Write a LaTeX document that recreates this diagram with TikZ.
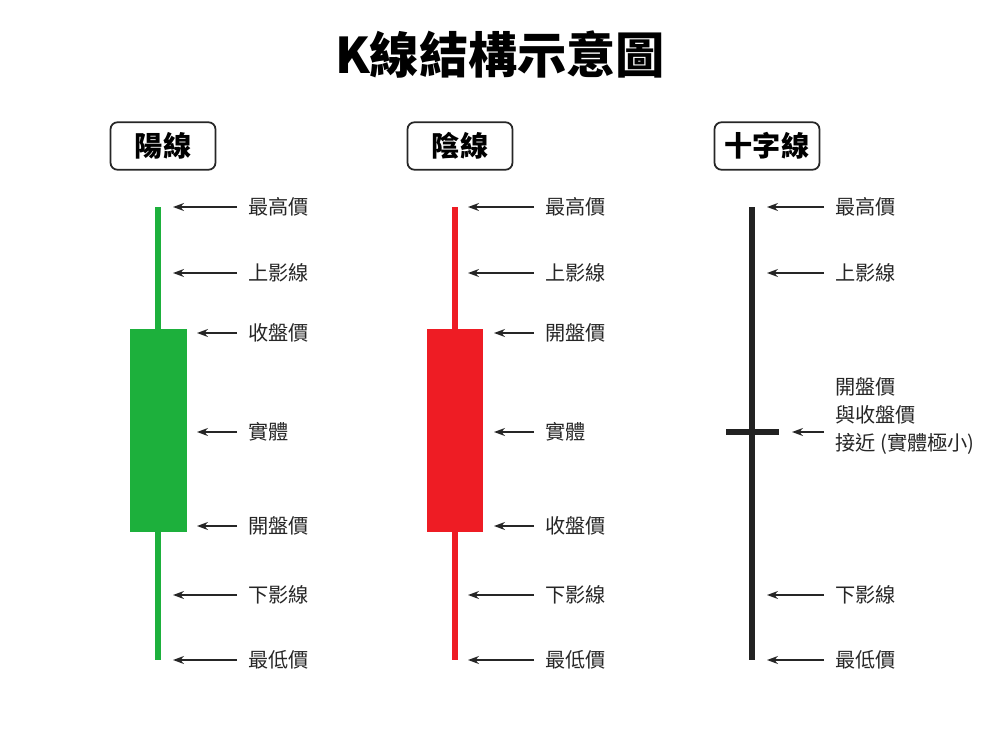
\documentclass[tikz,border=0pt]{standalone}
\usepackage{fontspec}
\setmainfont{Noto Sans CJK TC}
\usetikzlibrary{arrows.meta,positioning}
\definecolor{upgreen}{HTML}{1DB03C}
\definecolor{downred}{HTML}{EE1C24}
\definecolor{dojiblack}{HTML}{222222}
\tikzset{
  px/.style={x=0.02cm,y=-0.02cm},
  tag/.style={draw=black!85, line width=1pt, rounded corners=4pt, minimum width=2.1cm, minimum height=0.95cm, font=\fontsize{16}{20}\selectfont\bfseries},
  lbl/.style={anchor=west, inner sep=0pt, font=\fontsize{11.5}{14}\selectfont, text=black!85},
  pointer/.style={-{Stealth[length=2.2mm,width=1.6mm]}, line width=0.8pt, black!85, shorten <=2.2mm},
}
\begin{document}
\begin{tikzpicture}[px]
\useasboundingbox (0,0) rectangle (1000,750);
\node[font=\fontsize{28}{34}\selectfont\bfseries] (title) at (500,55) {K線結構示意圖};

\node[tag] (yang) at (163,146) {陽線};
\node[tag] (yin) at (460,146) {陰線};
\node[tag] (doji) at (767,146) {十字線};

% green candle
\draw[upgreen, line width=3pt] (158,207) -- (158,660);
\fill[upgreen] (130,329) rectangle (187,532);
% red candle
\draw[downred, line width=3pt] (455,207) -- (455,660);
\fill[downred] (427,329) rectangle (483,532);
% cross
\draw[dojiblack, line width=3pt] (752,207) -- (752,660);
\draw[dojiblack, line width=3pt] (726,432) -- (779,432);

% labels and arrows, first two columns
\foreach \col/\lx/\wick/\body/\open/\close in {g/248/173/197/開盤價/收盤價, r/545/468/494/收盤價/開盤價}{
  \foreach \y/\txt/\tip/\id in {207/最高價/\wick/a, 273/上影線/\wick/b, 333/\close/\body/c, 432/實體/\body/d, 526/\open/\body/e, 595/下影線/\wick/f, 660/最低價/\wick/g}{
    \node[lbl] (\col\id) at (\lx,\y) {\txt};
    \coordinate (\col\id tip) at (\tip,\y);
    \draw[pointer] (\col\id.west) -- (\col\id tip);
  }
}

% third column
\foreach \y/\txt/\id in {207/最高價/a, 273/上影線/b, 595/下影線/f, 660/最低價/g}{
  \node[lbl] (x\id) at (835,\y) {\txt};
  \coordinate (x\id tip) at (767,\y);
  \draw[pointer] (x\id.west) -- (x\id tip);
}
\node[lbl, align=left, font=\fontsize{11.5}{16}\selectfont] (xd) at (835,416) {開盤價\\與收盤價\\接近 (實體極小)};
\coordinate (xdtip) at (792,432);
\draw[pointer] (xd.west |- xdtip) -- (xdtip);
\end{tikzpicture}
\end{document}
